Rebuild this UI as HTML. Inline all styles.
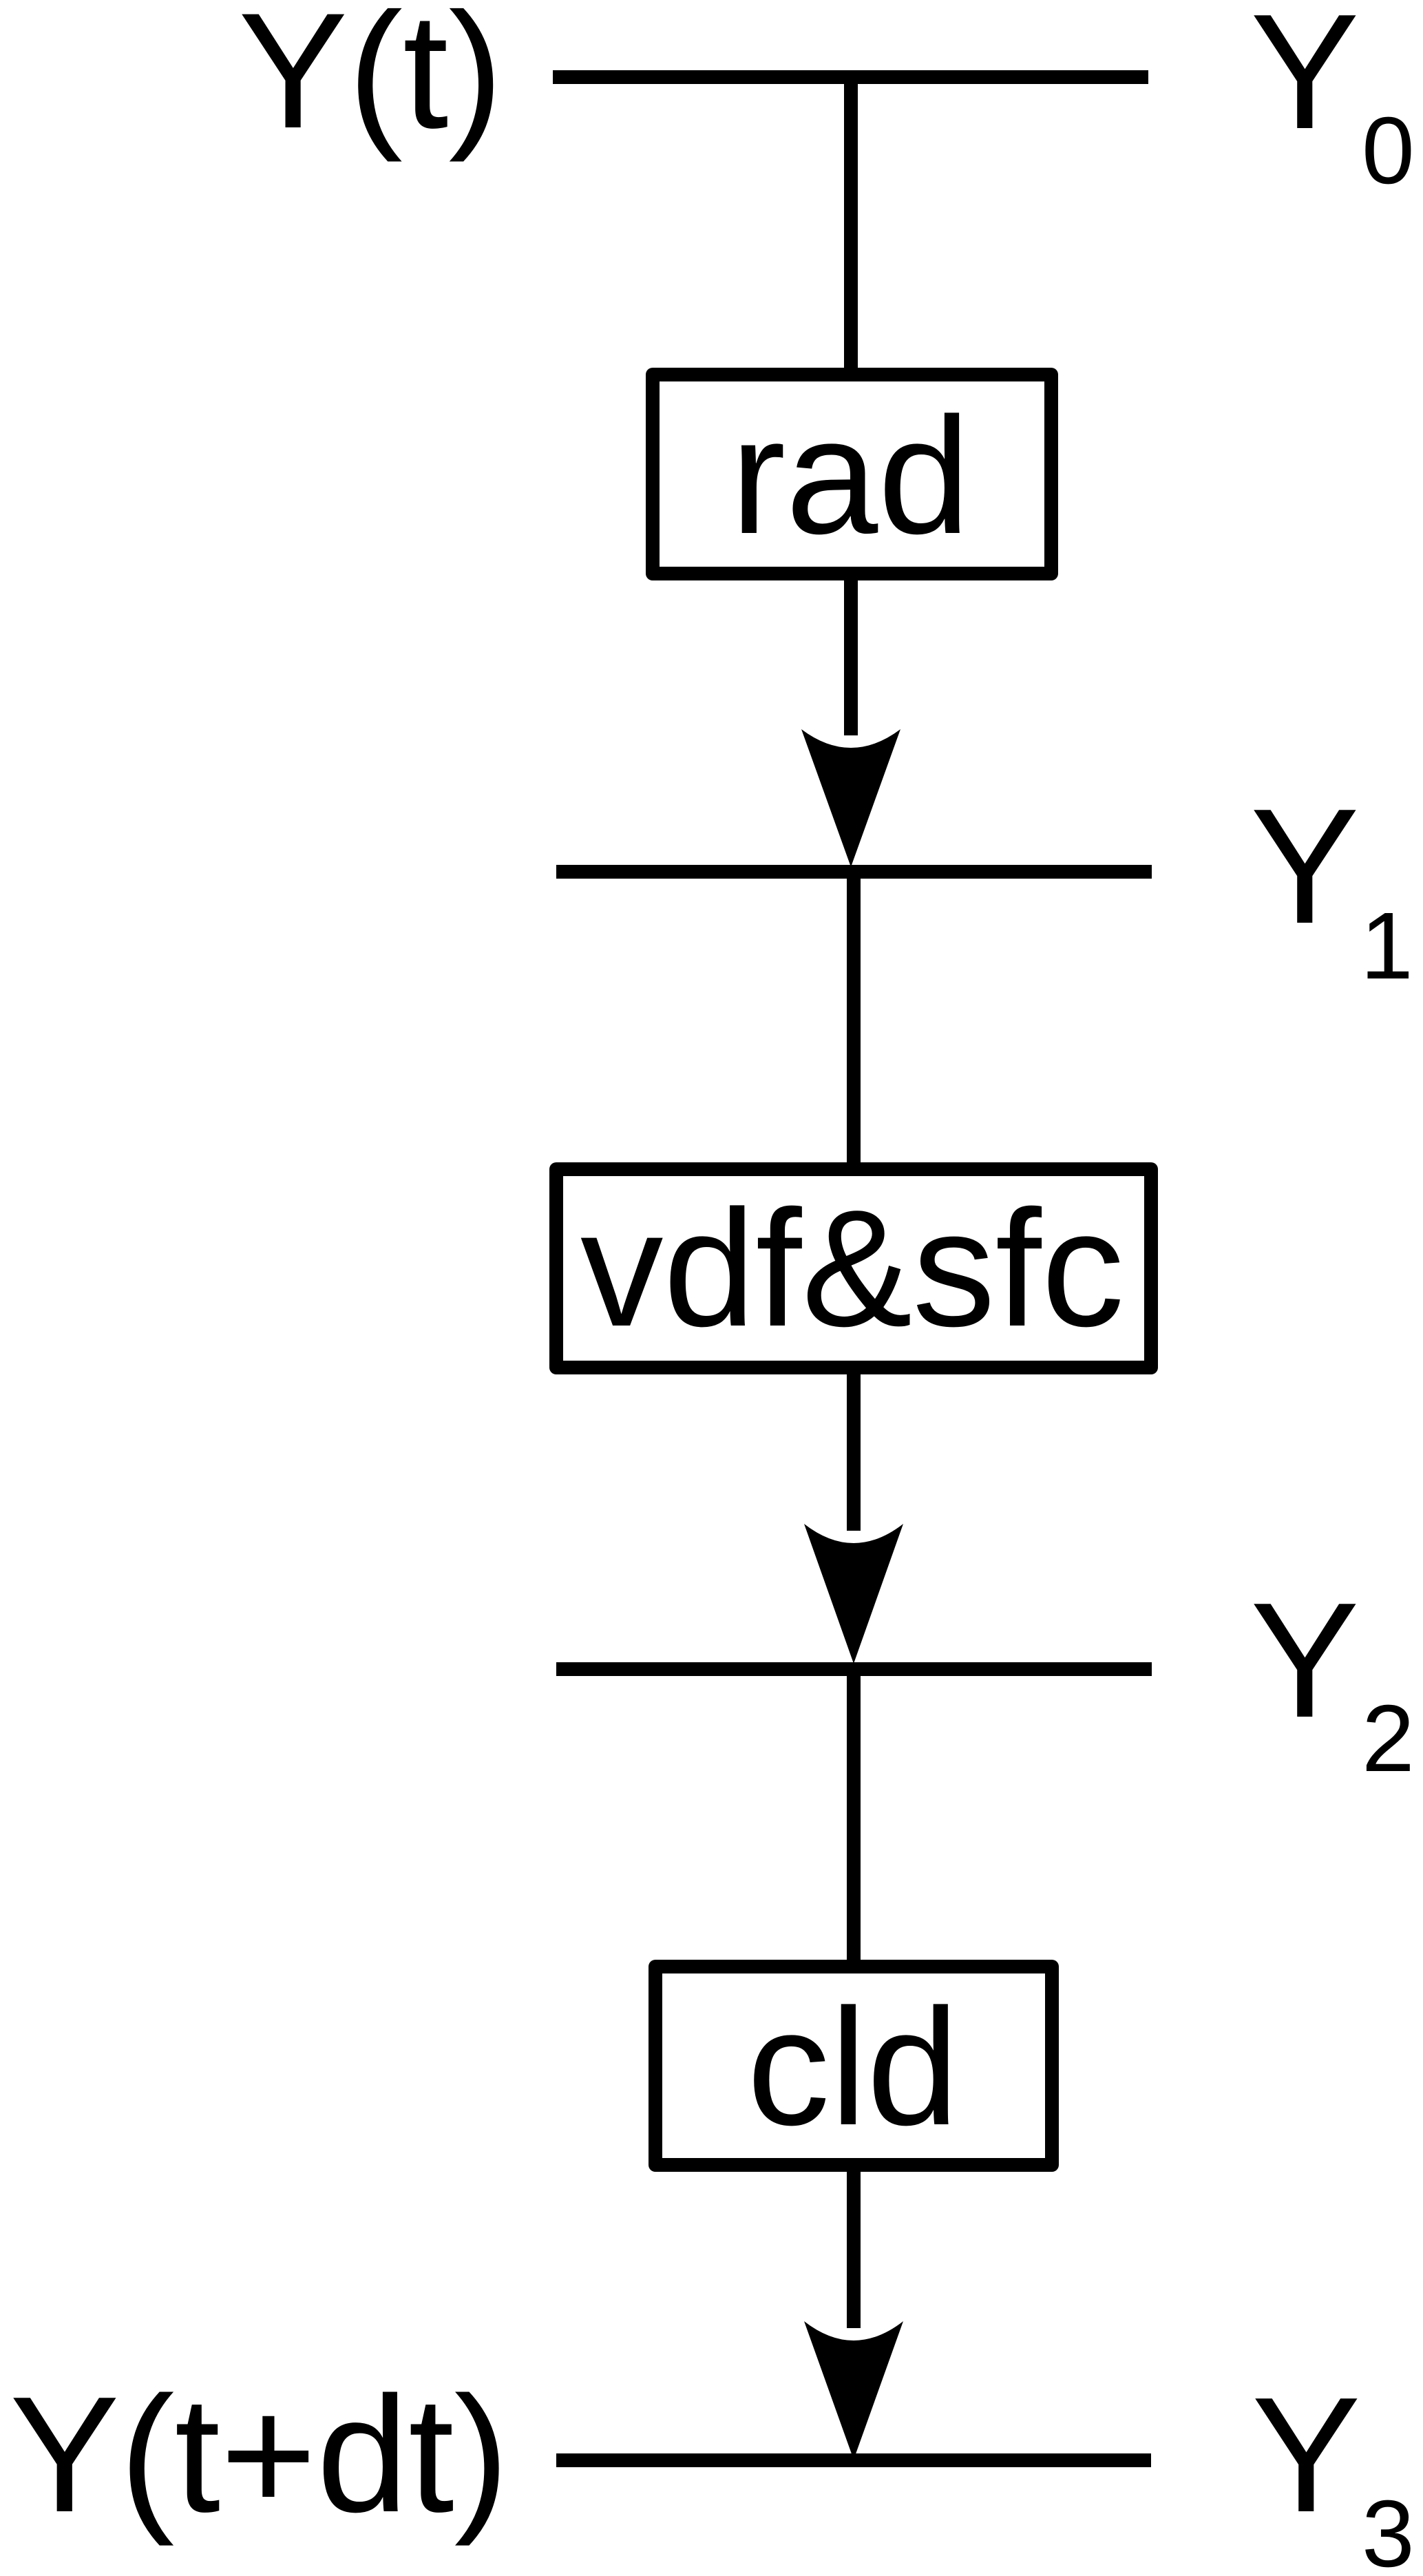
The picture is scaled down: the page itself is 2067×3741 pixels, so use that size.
<!DOCTYPE html>
<html>
<head>
<meta charset="utf-8">
<style>
html,body{margin:0;padding:0;background:#fff;}
svg{display:block;}
text{font-family:"Liberation Sans",sans-serif;fill:#000;}
.b{font-size:238px;}
.t{font-size:239px;}
.l{font-size:239.5px;}
.m{font-size:241px;}
.s{font-size:138px;}
.box{fill:#fff;stroke:#000;stroke-width:20;stroke-linejoin:round;}
</style>
</head>
<body>
<svg xmlns="http://www.w3.org/2000/svg" width="2067" height="3741" viewBox="0 0 2067 3741">
<rect width="2067" height="3741" fill="#fff"/>

<!-- horizontal state lines -->
<rect x="803" y="102" width="865" height="20"/>
<rect x="808" y="1256" width="865" height="20"/>
<rect x="808" y="2414" width="865" height="20"/>
<rect x="808" y="3563" width="864" height="20"/>

<!-- vertical connectors -->
<rect x="1226" y="112" width="20" height="430"/>
<rect x="1226" y="835" width="20" height="233"/>
<rect x="1230" y="1266" width="20" height="430"/>
<rect x="1230" y="1988" width="20" height="235"/>
<rect x="1230" y="2424" width="20" height="430"/>
<rect x="1230" y="3146" width="20" height="235"/>

<!-- boxes -->
<rect class="box" x="948" y="544" width="579" height="289"/>
<rect class="box" x="808" y="1698" width="864" height="288"/>
<rect class="box" x="952" y="2856" width="576" height="288"/>

<!-- arrowheads -->
<path d="M1164 1059 Q1236 1113 1308 1059 L1236 1259 Z"/>
<path d="M1168 2213 Q1240 2269 1312 2213 L1240 2416 Z"/>
<path d="M1168 3371 Q1240 3427 1312 3371 L1240 3572 Z"/>

<!-- box labels -->
<text class="m" x="1061" y="774">rad</text>
<text class="m" x="843" y="1925">vdf&amp;sfc</text>
<text class="m" x="1085" y="3085">cld</text>

<!-- left labels -->
<text class="t" x="346" y="185">Y(t)</text>
<text class="l" x="14" y="3647">Y(t+dt)</text>

<!-- right labels -->
<text class="b" x="1816" y="186">Y</text>
<text class="s" x="1978" y="266">0</text>
<text class="b" x="1816" y="1340">Y</text>
<text class="s" x="1976" y="1421">1</text>
<text class="b" x="1816" y="2493">Y</text>
<text class="s" x="1978" y="2572">2</text>
<text class="b" x="1818" y="3647">Y</text>
<text class="s" x="1978" y="3727">3</text>
</svg>
</body>
</html>
